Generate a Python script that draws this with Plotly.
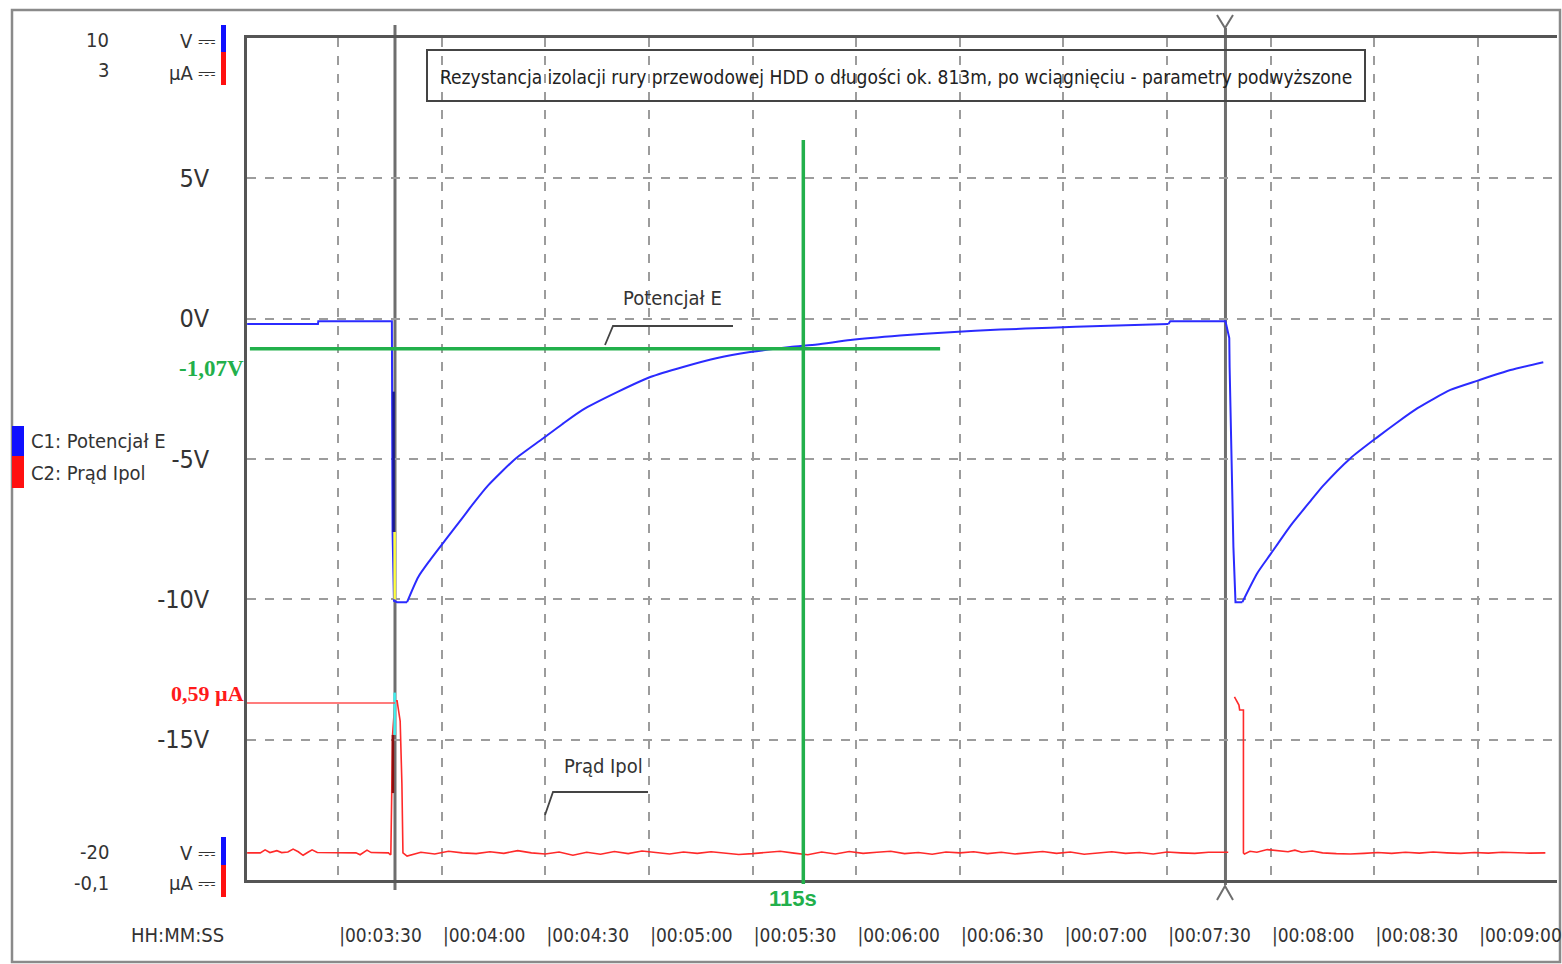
import plotly.graph_objects as go

# ---------------- data ----------------
# time axis (seconds) ticks
TICK_SECONDS = [210, 240, 270, 300, 330, 360, 390, 420, 450, 480, 510, 540]
TICK_LABELS = ["|00:03:30", "|00:04:00", "|00:04:30", "|00:05:00", "|00:05:30", "|00:06:00",
               "|00:06:30", "|00:07:00", "|00:07:30", "|00:08:00", "|00:08:30", "|00:09:00"]
V_TICKS = [-15, -10, -5, 0, 5]
V_TICK_LABELS = ["-15V", "-10V", "-5V", "0V", "5V"]

# C1: Potencjał E  (V)
pot_t = [183.7, 204.2, 204.3, 225.6, 225.8, 226.2, 227.1, 230.0, 233.2, 236.6, 241.0, 246.2, 249.1,
         253.4, 261.3, 269.1, 274.9, 280.7, 290.8, 300.4, 309.9, 319.8, 329.3, 340.9, 348.7, 358.3,
         372.7, 387.2, 401.7, 416.2, 430.7, 450.4, 450.9, 466.9, 468.0, 468.1, 469.2, 469.8, 471.8,
         476.1, 479.9, 485.7, 491.5, 495.2, 503.1, 510.9, 516.7, 522.5, 532.0, 540.1, 549.4, 558.9]
pot_v = [-0.19, -0.19, -0.09, -0.09, -7.6, -10.05, -10.1, -10.1, -9.21, -8.61, -7.90, -7.07, -6.60,
         -5.95, -5.00, -4.29, -3.76, -3.26, -2.62, -2.08, -1.72, -1.40, -1.19, -1.01, -0.92, -0.76,
         -0.60, -0.48, -0.39, -0.32, -0.26, -0.19, -0.09, -0.09, -0.69, -1.72, -8.14, -10.1, -10.1,
         -9.07, -8.40, -7.38, -6.50, -5.95, -4.97, -4.22, -3.69, -3.19, -2.54, -2.20, -1.83, -1.55]
# index ranges of the recovery curves (drawn smoothed) vs. steps (drawn straight)
CURVE_SEGMENTS = [(7, 32), (38, len(pot_t))]
STEP_SEGMENTS = [(0, 8), (31, 39)]

# C2: Prąd Ipol  (µA)
cur_t = [183.7, 187.5, 188.9, 190.3, 192.3, 193.7, 195.5, 197.0, 198.5, 199.9, 201.3, 202.5, 204.0,
         208.0, 213.0, 215.2, 216.4, 217.4, 218.4, 219.6, 224.6, 225.1,
         225.3, 225.8, 226.5, 227.1, 228.0, 228.5, 228.8,
         230.0, 234, 238, 242, 246, 250, 254, 258, 262, 266, 270, 274, 278, 282, 286, 290, 294, 298,
         302, 306, 310, 314, 318, 322, 326, 330, 334, 338, 342, 346, 350, 354, 358, 362, 366, 370,
         374, 378, 382, 386, 390, 394, 398, 402, 406, 410, 414, 418, 422, 426, 430, 434, 438, 442,
         446, 450, 454, 458, 462, 466, 467.7,
         468.5,
         469.5, 470.2, 470.8, 471.0, 472.1, 472.1, 472.4,
         474, 476, 479, 482, 485, 487, 489, 492, 495, 499, 503, 507, 511, 515, 519, 523, 527, 531,
         535, 539, 543, 547, 551, 555, 559.5]
cur_i = [0.000, 0.000, 0.011, 0.001, 0.008, 0.001, 0.003, 0.014, 0.004, -0.009, 0.002, 0.011, 0.001,
         0.000, 0.000, 0.000, -0.007, 0.002, 0.010, 0.001, 0.000, -0.006,
         -0.005, 0.434, 0.560, 0.560, 0.485, 0.254, 0.000,
         -0.012, 0.002, -0.004, 0.006, 0.000, -0.003, 0.004, -0.002, 0.008, 0.000, -0.004, 0.003,
         -0.009, 0.002, -0.005, 0.005, -0.003, 0.007, 0.001, -0.004, 0.003, -0.002, 0.004, 0.000,
         -0.006, -0.003, 0.002, 0.006, -0.001, -0.007, 0.003, -0.004, 0.005, -0.002, 0.002, 0.006,
         -0.003, 0.001, -0.005, 0.003, 0.000, 0.004, -0.003, 0.002, -0.004, 0.001, 0.005, -0.002,
         0.003, -0.005, 0.000, 0.004, -0.002, 0.001, -0.004, 0.003, 0.000, -0.002, 0.002, 0.001, 0.002,
         None,
         0.574, 0.560, 0.544, 0.526, 0.526, 0.000, -0.004,
         0.006, 0.002, 0.012, 0.008, 0.004, 0.010, 0.002, 0.007, 0.000, -0.003, -0.004, -0.002, 0.001,
         -0.002, 0.002, -0.001, 0.003, 0.000, -0.002, 0.001, -0.001, 0.002, 0.000, -0.001, 0.000]

# cursors and markers
CURSOR1_T = 226.5
CURSOR2_T = 466.9
MARK_T = 344.7          # green vertical cursor (115 s)
MARK_V = -1.07          # green horizontal marker
MARK_I = 0.552          # red current marker
GREEN_H_END_T = 384.3

X_RANGE = [183.66, 562.87]
V_RANGE = [-20, 10]
I_RANGE = [-0.1, 3.0]

# ---------------- layout helpers (pixel -> paper) ----------------
L, R, T, B = 247, 1557, 38, 880
W_, H_ = R - L, B - T


def px(x):
    return (x - L) / W_


def py(y):
    return (B - y) / H_


FONT = "Liberation Sans Narrow, DejaVu Sans Condensed, Arial Narrow, Liberation Sans, sans-serif"
TXT = "#333333"
BLUE = "#2b2bff"
RED = "#ff2a2a"
GREEN = "#22b04b"
GRAY = "#6e6e6e"

fig = go.Figure()
for a, b in STEP_SEGMENTS:
    fig.add_trace(go.Scatter(x=pot_t[a:b], y=pot_v[a:b], mode="lines",
                             line=dict(color=BLUE, width=2),
                             name="C1: Potencjał E", showlegend=False, hoverinfo="skip"))
for a, b in CURVE_SEGMENTS:
    fig.add_trace(go.Scatter(x=pot_t[a:b], y=pot_v[a:b], mode="lines",
                             line=dict(color=BLUE, width=2, shape="spline", smoothing=0.6),
                             name="C1: Potencjał E", showlegend=False, hoverinfo="skip"))
fig.add_trace(go.Scatter(x=cur_t, y=cur_i, mode="lines", line=dict(color=RED, width=1.6),
                         yaxis="y2", name="C2: Prąd Ipol", showlegend=False, hoverinfo="skip",
                         connectgaps=False))

shapes = []
# outer frame
shapes.append(dict(type="rect", xref="paper", yref="paper", x0=px(12), x1=px(1560), y0=py(962), y1=py(10),
                   line=dict(color="#8a8a8a", width=2.5), layer="below"))
# cursors
shapes.append(dict(type="line", xref="x", yref="paper", x0=CURSOR1_T, x1=CURSOR1_T, y0=py(890), y1=py(25),
                   line=dict(color=GRAY, width=3), layer="between"))
shapes.append(dict(type="line", xref="x", yref="paper", x0=CURSOR2_T, x1=CURSOR2_T, y0=py(885), y1=py(28),
                   line=dict(color=GRAY, width=3), layer="between"))
# cursor 2 markers (Y on top, ^ at bottom)
shapes.append(dict(type="path", xref="paper", yref="paper",
                   path=f"M {px(1217)} {py(15)} L {px(1225)} {py(28)} L {px(1233)} {py(15)}",
                   line=dict(color=GRAY, width=2)))
shapes.append(dict(type="path", xref="paper", yref="paper",
                   path=f"M {px(1217)} {py(900)} L {px(1225)} {py(886)} L {px(1233)} {py(900)}",
                   line=dict(color=GRAY, width=2)))
# cursor crossing highlights
shapes.append(dict(type="line", xref="x", yref="y", x0=CURSOR1_T - 0.4, x1=CURSOR1_T - 0.4, y0=-2.6, y1=-7.6,
                   line=dict(color="#1a1a90", width=2.5)))
shapes.append(dict(type="line", xref="x", yref="y", x0=CURSOR1_T - 0.1, x1=CURSOR1_T - 0.1, y0=-7.6, y1=-10.0,
                   line=dict(color="#ffff40", width=2.5)))
shapes.append(dict(type="line", xref="x", yref="y2", x0=CURSOR1_T - 0.1, x1=CURSOR1_T - 0.1, y0=0.434, y1=0.59,
                   line=dict(color="#40f0f0", width=2.5)))
shapes.append(dict(type="line", xref="x", yref="y2", x0=CURSOR1_T - 0.6, x1=CURSOR1_T - 0.6, y0=0.22, y1=0.434,
                   line=dict(color="#8a1010", width=2.5)))
# red current marker line
shapes.append(dict(type="line", xref="x", yref="y2", x0=X_RANGE[0], x1=CURSOR1_T, y0=MARK_I, y1=MARK_I,
                   line=dict(color="#ff5050", width=1.5)))
# green markers
shapes.append(dict(type="line", xref="x", yref="y", x0=184.5, x1=GREEN_H_END_T, y0=MARK_V, y1=MARK_V,
                   line=dict(color=GREEN, width=3.5)))
shapes.append(dict(type="line", xref="x", yref="paper", x0=MARK_T, x1=MARK_T, y0=py(884), y1=py(140),
                   line=dict(color=GREEN, width=3.5)))
# title box
shapes.append(dict(type="rect", xref="paper", yref="paper", x0=px(427), x1=px(1365), y0=py(101), y1=py(50),
                   line=dict(color="#444444", width=2)))
# leader lines
shapes.append(dict(type="path", xref="paper", yref="paper",
                   path=f"M {px(605)} {py(345)} L {px(613)} {py(326)} L {px(733)} {py(326)}",
                   line=dict(color="#444444", width=1.8)))
shapes.append(dict(type="path", xref="paper", yref="paper",
                   path=f"M {px(545)} {py(815)} L {px(553)} {py(792)} L {px(648)} {py(792)}",
                   line=dict(color="#444444", width=1.8)))
# channel colour bars
for (y0, y1, c) in [(25, 52, "#1010ff"), (52, 85, "#ff1010"), (837, 865, "#1010ff"), (865, 897, "#ff1010")]:
    shapes.append(dict(type="rect", xref="paper", yref="paper", x0=px(221), x1=px(226), y0=py(y1), y1=py(y0),
                       fillcolor=c, line=dict(width=0)))
# legend swatches
for (y0, y1, c) in [(426, 456, "#1010ff"), (456, 488, "#ff1010")]:
    shapes.append(dict(type="rect", xref="paper", yref="paper", x0=px(12), x1=px(24), y0=py(y1), y1=py(y0),
                       fillcolor=c, line=dict(width=0)))

annotations = []


def ann(text, x, y, size, anchor="center", color=TXT, family=FONT):
    annotations.append(dict(text=text, x=px(x), y=py(y), xref="paper", yref="paper", showarrow=False,
                            xanchor=anchor, yanchor="middle", font=dict(size=size, color=color, family=family)))


ann("10", 111, 40, 20, "right")
ann("3", 111, 70, 20, "right")
ann("V <span style='font-size:22px'>⎓</span>", 218, 40, 20, "right")
ann("µA <span style='font-size:22px'>⎓</span>", 218, 72, 20, "right")
ann("-20", 111, 852, 20, "right")
ann("-0,1", 111, 883, 20, "right")
ann("V <span style='font-size:22px'>⎓</span>", 218, 852, 20, "right")
ann("µA <span style='font-size:22px'>⎓</span>", 218, 883, 20, "right")
ann("C1: Potencjał E", 29, 441, 20, "left")
ann("C2: Prąd Ipol", 29, 473, 20, "left")
ann("<b>-1,07V</b>", 246, 368, 23, "right", GREEN, "Liberation Serif, serif")
ann("<b>0,59 µA</b>", 246, 693, 22, "right", "#ff1a1a", "Liberation Serif, serif")
ann("HH:MM:SS", 129, 935, 20, "left")
ann("<b>115s</b>", 793, 898, 22, "center", GREEN, "Liberation Sans, sans-serif")
ann("Rezystancja izolacji rury przewodowej HDD o długości ok. 813m, po wciągnięciu - parametry podwyższone",
    896, 77, 19, "center", "#222222")
ann("Potencjał E", 672, 298, 20, "center")
ann("Prąd Ipol", 603, 766, 20, "center")

fig.update_layout(
    width=1562, height=964,
    margin=dict(l=L, r=1562 - R, t=T, b=964 - B, autoexpand=False),
    paper_bgcolor="white", plot_bgcolor="white",
    showlegend=False,
    shapes=shapes,
    annotations=annotations,
    xaxis=dict(range=X_RANGE, tickvals=TICK_SECONDS, ticktext=TICK_LABELS, ticks="",
               ticklabelposition="outside right", ticklabelstandoff=36, automargin=False,
               tickfont=dict(family=FONT, size=19, color=TXT),
               showgrid=True, gridcolor="#9c9c9c", griddash="dash", gridwidth=1.5,
               showline=True, linecolor="#555555", linewidth=2.5, mirror=True, zeroline=False),
    yaxis=dict(range=V_RANGE, tickvals=V_TICKS, ticktext=V_TICK_LABELS, ticks="", automargin=False,
               ticklabelstandoff=30, tickfont=dict(family=FONT, size=25, color=TXT),
               showgrid=True, gridcolor="#9c9c9c", griddash="dash", gridwidth=1.5,
               showline=True, linecolor="#555555", linewidth=2.5, mirror=False, zeroline=False),
    yaxis2=dict(range=I_RANGE, overlaying="y", visible=False),
)

fig.write_html("out.html", config={"displayModeBar": False},
               post_script="document.body.style.margin='0';document.body.style.overflow='hidden';")
